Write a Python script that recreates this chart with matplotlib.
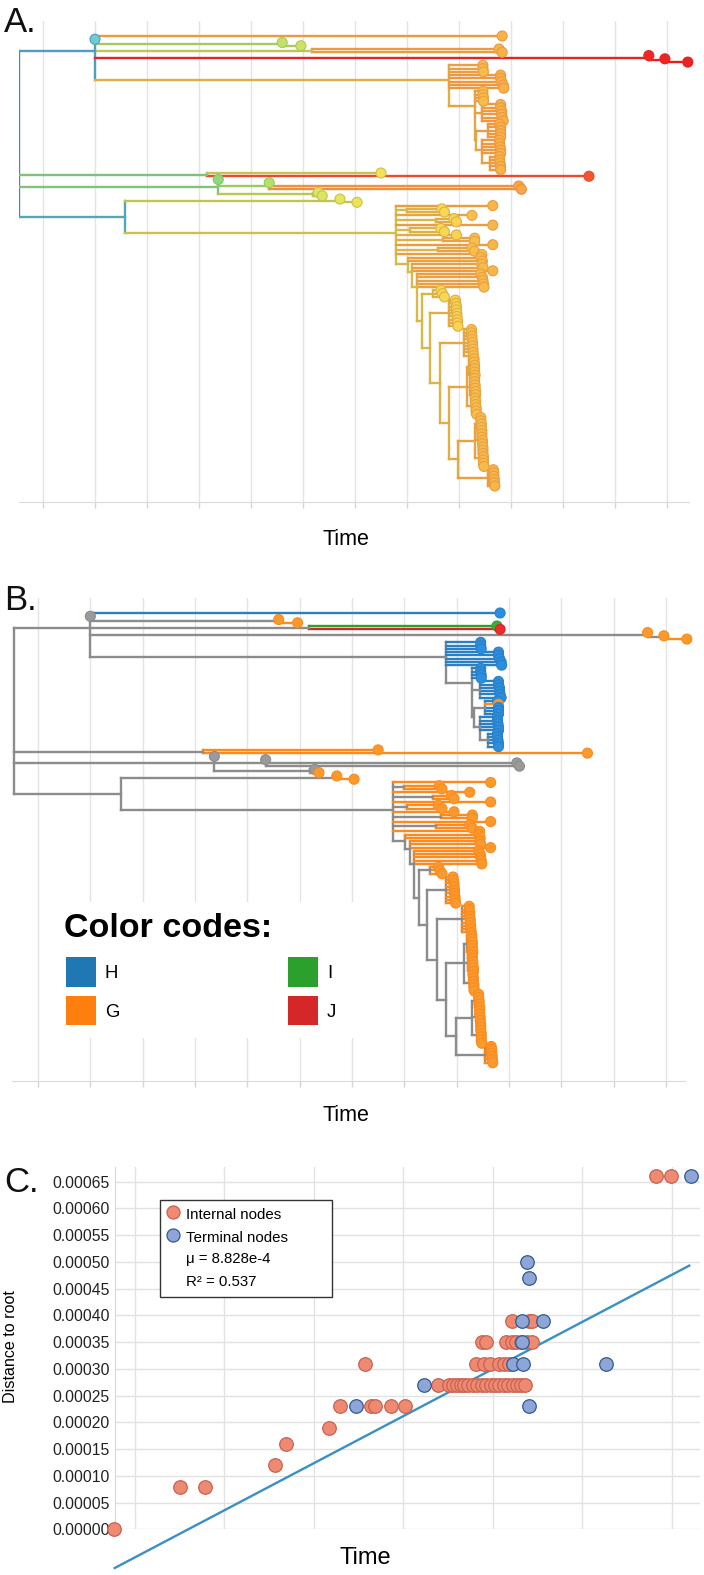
import numpy as np
import matplotlib
matplotlib.use("Agg")
import matplotlib.pyplot as plt
from matplotlib.collections import LineCollection
from matplotlib.colors import LinearSegmentedColormap
from matplotlib.patches import Rectangle

plt.rcParams['font.family'] = ['Liberation Sans', 'DejaVu Sans']

# ---------------- tree data ----------------
# tip = "time:group"  (group used in panel B, U = no group)
# internal node = [time, child, child, ...]
c1_cluster = [7.8,
    "8.46:H", "8.46:H", "8.47:H", "8.8:H", "8.8:H", "8.82:H", "8.85:H", "8.86:H",
    [8.3, "8.46:H", "8.46:H", "8.47:H", "8.47:H",
        [8.45, "8.8:H", "8.8:H", "8.82:H", "8.82:H", "8.83:H", "8.85:H"],
        [8.33,
            [8.55, "8.78:H", "8.8:G", "8.8:H", "8.8:H", "8.8:H"],
            [8.45, "8.78:H", "8.78:H", "8.79:H", "8.8:H", "8.8:H",
                [8.6, "8.78:H", "8.78:H", "8.79:H", "8.8:H", "8.8:H"]]]]]

c1 = [1.0,
    "8.83:H",
    "1.0:U",
    [4.6, "4.6:G", "4.96:G"],
    [5.17, "8.77:I", "8.83:J"],
    [11.65, "11.65:G", [11.96, "11.96:G", "12.4:G"]],
    c1_cluster]

c2a = [3.15, "6.5:G", "10.5:G"]
c2b = [3.37, "3.37:U", [4.35, "4.35:U", "9.15:U", "9.2:U"], [5.2, "5.29:U", "5.37:G"]]

c3_ladder = [7.02, "8.42:G", "8.45:G",
    [7.1, "8.44:G", "8.46:G", "8.65:G",
        [7.19, "8.42:G", "8.45:G", "8.46:G", "8.47:G", "8.48:G",
            [7.29,
                [7.5, "7.65:G", "7.68:G", "7.72:G"],
                [7.44,
                    [7.8, "7.93:G", "7.94:G", "7.95:G", "7.95:G", "7.96:G", "7.96:G",
                     "7.97:G", "7.97:G", "7.98:G"],
                    [7.63,
                        [8.1, "8.24:G", "8.24:G", "8.25:G", "8.25:G", "8.26:G", "8.26:G",
                         "8.27:G", "8.27:G", "8.28:G"],
                        [7.8,
                            [8.15,
                                [8.2, "8.29:G", "8.29:G", "8.3:G", "8.3:G", "8.3:G", "8.31:G"],
                                [8.22, "8.3:G", "8.3:G", "8.31:G", "8.31:G", "8.32:G", "8.32:G"],
                                [8.25, "8.31:G", "8.32:G", "8.32:G", "8.33:G", "8.33:G", "8.34:G"]],
                            [7.99,
                                [8.3,
                                    [8.36, "8.42:G", "8.42:G", "8.43:G", "8.43:G", "8.44:G"],
                                    [8.38, "8.44:G", "8.44:G", "8.45:G", "8.45:G", "8.46:G"],
                                    [8.4, "8.46:G", "8.46:G", "8.47:G", "8.47:G", "8.47:G", "8.48:G"]],
                                [8.55, "8.66:G", "8.67:G", "8.67:G", "8.68:G", "8.68:G", "8.69:G"]]]]]]]]]

c3b = [6.79,
    "8.65:G",
    [7.0, "7.67:G", "7.72:G"],
    "8.25:G",
    [7.55, "7.9:G", "7.95:G"],
    "8.65:G",
    [7.05, "7.65:G", "7.72:G"],
    "7.95:G",
    [7.7, "8.3:G", "8.3:G"],
    "8.65:G",
    [7.6, "8.25:G", "8.3:G"],
    "8.44:G",
    c3_ladder]

c3 = [1.58, [5.71, "5.71:G", "6.04:G"], c3b]

tree = [-0.46, c1, c2a, c2b, c3]

group_names = ["H", "G", "I", "J"]
group_legend = ["#1f77b4", "#ff7f0e", "#2ca02c", "#d62728"]

# ---------------- root-to-tip data ----------------
internal_time = [-0.46, 1.01, 1.56, 3.13, 3.37, 4.34, 4.59, 5.29, 5.37, 5.73, 6.05, 5.15,
                 6.78, 7.02, 7.12, 7.2, 7.28, 7.36, 7.45, 7.55, 7.65, 7.75,
                 7.85, 7.95, 8.05, 8.15, 8.25, 8.35, 8.45, 8.55, 8.63, 8.72,
                 7.63, 7.8, 7.93, 8.13, 8.25, 8.36,
                 7.76, 7.85, 8.3, 8.42, 8.52, 8.64, 8.77, 8.88,
                 8.42, 8.8, 8.88,
                 11.65, 11.99]
internal_dist = [0.0, 0.00008, 0.00008, 0.00012, 0.00016, 0.00019, 0.00023, 0.00023, 0.00023,
                 0.00023, 0.00023, 0.00031,
                 0.00027, 0.00027, 0.00027, 0.00027, 0.00027, 0.00027, 0.00027, 0.00027,
                 0.00027, 0.00027, 0.00027, 0.00027, 0.00027, 0.00027, 0.00027, 0.00027,
                 0.00027, 0.00027, 0.00027, 0.00027,
                 0.00031, 0.00031, 0.00031, 0.00031, 0.00031, 0.00031,
                 0.00035, 0.00035, 0.00035, 0.00035, 0.00035, 0.00035, 0.00035, 0.00035,
                 0.00039, 0.00039, 0.00039,
                 0.00066, 0.00066]
terminal_time = [4.95, 6.46, 8.45, 8.67, 8.65, 8.65, 9.12, 8.77, 8.82, 8.82, 10.53, 12.42]
terminal_dist = [0.00023, 0.00027, 0.00031, 0.00031, 0.00035, 0.00039, 0.00039, 0.0005,
                 0.00047, 0.00023, 0.00031, 0.00066]
reg_slope = 4.4045e-5
reg_intercept = -5.27e-5
reg_range = [-0.447, 12.39]
y_ticks = [0.0, 0.00005, 0.0001, 0.00015, 0.0002, 0.00025, 0.0003, 0.00035, 0.0004,
           0.00045, 0.0005, 0.00055, 0.0006, 0.00065]


def layout(node, tips, hsegs, vsegs, counter):
    if isinstance(node, str):
        t, grp = node.split(":")
        y = counter[0]
        counter[0] += 1
        tips.append((float(t), y, grp))
        return float(t), y, grp
    t0 = node[0]
    kids = [layout(k, tips, hsegs, vsegs, counter) for k in node[1:]]
    ys = [k[1] for k in kids]
    for kt, ky, kg in kids:
        if kt > t0:
            hsegs.append((t0, kt, ky, kg))
    vsegs.append((t0, min(ys), max(ys)))
    return t0, float(np.mean(ys)), None


tips, hsegs, vsegs = [], [], []
layout(tree, tips, hsegs, vsegs, [0])


# colour scales for panel A (by time)
def make_cmap(pairs):
    lo, hi = -0.5, 12.5
    return LinearSegmentedColormap.from_list("c", [((t - lo) / (hi - lo), c) for t, c in pairs])


branch_cmap = make_cmap([(-0.5, "#3f86c8"), (1.0, "#4d9ec0"), (1.6, "#55a8b8"), (3.2, "#7ec27c"),
                         (4.4, "#a0c862"), (5.2, "#b9c757"), (6.0, "#c9c34d"), (6.8, "#d2bf4a"),
                         (7.6, "#dcb447"), (8.2, "#e6a543"), (8.8, "#ec9a41"), (9.2, "#ee9140"),
                         (10.5, "#ea4a2e"), (11.6, "#e52622"), (12.5, "#e21f1f")])
tip_cmap = make_cmap([(-0.5, "#5fb8e0"), (1.0, "#6dcdd2"), (3.37, "#8fd978"), (4.4, "#b9e06a"),
                      (5.3, "#dde45e"), (6.2, "#f2e258"), (7.2, "#f8de55"), (7.97, "#f8d550"),
                      (8.2, "#f8bf4c"), (8.8, "#f8b348"), (9.3, "#f7a545"), (10.5, "#f3562f"),
                      (11.6, "#ef2626"), (12.5, "#ec2222")])
tcol = lambda t: branch_cmap((t + 0.5) / 13.0)
tfill = lambda t: tip_cmap((t + 0.5) / 13.0)

grp_line = {"H": "#2b7fc3", "G": "#fb8a1f", "I": "#2ca02c", "J": "#d62728", "U": "#8c8c8c"}
grp_fill = {"H": "#2a8fe0", "G": "#fb9a2c", "I": "#36b336", "J": "#ee2b2b", "U": "#9a9a9a"}

W, H = 704, 1575
fig = plt.figure(figsize=(W / 100, H / 100), dpi=100)


def px_axes(x0, y0, x1, y1):
    return fig.add_axes([x0 / W, 1 - y1 / H, (x1 - x0) / W, (y1 - y0) / H])


def tree_axes(ax, xlim, ylim):
    ax.set_xlim(*xlim)
    ax.set_ylim(*ylim)
    ax.set_xticks(np.arange(0, 13))
    ax.set_yticks([])
    ax.tick_params(axis="x", length=4, width=1, color="#d5d5d5", labelbottom=False)
    ax.grid(axis="x", color="#e4e4e4", lw=1)
    ax.set_axisbelow(True)
    for s in ["top", "right", "left"]:
        ax.spines[s].set_visible(False)
    ax.spines["bottom"].set_color("#dadada")


def draw_tree(ax, colour_by_time):
    segs, cols = [], []
    for t0, y0, y1 in vsegs:
        segs.append([(t0, y0), (t0, y1)])
        cols.append(tcol(t0) if colour_by_time else grp_line["U"])
    for t0, t1, y, g in hsegs:
        segs.append([(t0, y), (t1, y)])
        if colour_by_time:
            cols.append(tcol(t1))
        else:
            cols.append(grp_line[g] if g else grp_line["U"])
    ax.add_collection(LineCollection(segs, colors=cols, linewidths=1.7, zorder=2,
                                     capstyle="projecting"))
    tt = [p[0] for p in tips]
    ty = [p[1] for p in tips]
    if colour_by_time:
        fc = [tfill(t) for t in tt]
        ec = [tcol(t) for t in tt]
    else:
        fc = [grp_fill[p[2]] for p in tips]
        ec = [grp_line[p[2]] for p in tips]
    ax.scatter(tt, ty, s=52, c=fc, edgecolors=ec, linewidths=0.8, zorder=3, clip_on=False)


# panel A
axA = px_axes(19, 21, 689, 502)
tree_axes(axA, (-0.4615, 12.423), (142.9, -4.6))
draw_tree(axA, True)

# panel B
axB = px_axes(12, 598, 685, 1081)
tree_axes(axB, (-0.497, 12.364), (143.6, -4.6))
draw_tree(axB, False)

# panel C
axC = px_axes(114.7, 1166.7, 700, 1529.3)
axC.set_xlim(-0.447, 12.63)
axC.set_ylim(0, 0.000678)
axC.set_xticks(np.arange(0, 13, 2))
axC.set_yticks(y_ticks)
axC.set_yticklabels(["%.5f" % v for v in y_ticks])
axC.tick_params(axis="x", length=0, labelbottom=False)
axC.tick_params(axis="y", length=0, pad=3.4, labelsize=11.3, labelcolor="#222222")
axC.grid(True, color="#e2e2e2", lw=1)
axC.set_axisbelow(True)
for s in ["top", "right", "bottom"]:
    axC.spines[s].set_visible(False)
axC.spines["left"].set_color("#d8d8d8")
axC.scatter(internal_time, internal_dist, s=95, c="#ef8a72", edgecolors="#c9614f",
            linewidths=0.9, zorder=4, clip_on=False)
axC.scatter(terminal_time, terminal_dist, s=95, c="#8fa5d5", edgecolors="#2b5c97",
            linewidths=0.9, zorder=5, clip_on=False)
rx = np.array(reg_range)
axC.plot(rx, reg_intercept + reg_slope * rx, color="#3c8fc3", lw=1.7, zorder=3, clip_on=False)

# overlay for panel letters, axis titles and legends (pixel coordinates)
ov = fig.add_axes([0, 0, 1, 1])
ov.set_xlim(0, W)
ov.set_ylim(H, 0)
ov.axis("off")
ov.patch.set_alpha(0)

for lab, yb in [("A.", 32), ("B.", 610), ("C.", 1192)]:
    ov.text(4, yb, lab, fontsize=25, va="baseline", ha="left", color="#111111")
ov.text(346, 545, "Time", fontsize=15.5, ha="center", va="baseline")
ov.text(346, 1121, "Time", fontsize=15.5, ha="center", va="baseline")
ov.text(365, 1564, "Time", fontsize=17, ha="center", va="baseline")
ov.text(11, 1347, "Distance to root", fontsize=11.6, rotation=90, ha="center", va="center")

# panel B colour legend
ov.add_patch(Rectangle((45, 902), 310, 136, facecolor="white", edgecolor="none", zorder=1))
ov.text(64, 937, "Color codes:", fontsize=24.5, fontweight="bold", va="baseline", zorder=2)
leg_pos = [(66, 957), (66, 995.5), (288, 957), (288, 995.5)]
for name, col, (x, y) in zip(group_names, group_legend, leg_pos):
    ov.add_patch(Rectangle((x, y), 29.7, 29.5, facecolor=col, edgecolor="none", zorder=2))
    ov.text(x + 39, y + 21.5, name, fontsize=13.4, va="baseline", zorder=2)

# panel C legend
ov.add_patch(Rectangle((160, 1200), 171.7, 96.7, facecolor="white", edgecolor="#333333",
                       lw=1, zorder=1))
ov.scatter([172.7], [1211.7], s=88, c="#ef8a72", edgecolors="#c9614f", linewidths=0.9, zorder=2)
ov.scatter([172.7], [1235], s=88, c="#8fa5d5", edgecolors="#2b5c97", linewidths=0.9, zorder=2)
ov.text(185.7, 1219.3, "Internal nodes", fontsize=10.8, va="baseline", zorder=2)
ov.text(185.7, 1242.3, "Terminal nodes", fontsize=10.8, va="baseline", zorder=2)
ov.text(185.7, 1262.7, "\u03bc = 8.828e-4", fontsize=10.8, va="baseline", zorder=2)
ov.text(185.7, 1286, "R\u00b2 = 0.537", fontsize=10.8, va="baseline", zorder=2)

fig.savefig("out.png", dpi=100)
